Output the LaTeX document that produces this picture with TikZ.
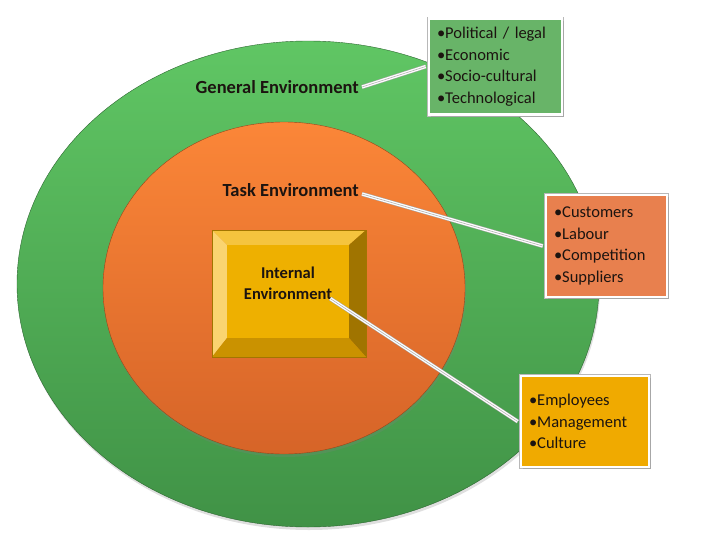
\documentclass[tikz,border=0pt]{standalone}
\usepackage{fontspec}
\setmainfont{Carlito}
\usetikzlibrary{shadows}

\definecolor{genTop}{RGB}{96,198,100}
\definecolor{genBot}{RGB}{64,146,70}
\definecolor{taskTop}{RGB}{251,134,56}
\definecolor{taskBot}{RGB}{214,100,40}
\definecolor{genFill}{RGB}{104,180,104}
\definecolor{taskFill}{RGB}{232,128,78}
\definecolor{intFill}{RGB}{240,170,0}
\definecolor{bevFace}{RGB}{238,176,0}
\definecolor{bevTop}{RGB}{245,196,62}
\definecolor{bevLeft}{RGB}{250,212,112}
\definecolor{bevRight}{RGB}{160,116,0}
\definecolor{bevBot}{RGB}{202,146,0}
\definecolor{inkText}{RGB}{28,20,16}

\begin{document}
\begin{tikzpicture}[x=1pt,y=-1pt,
		envlabel/.style={font=\fontsize{18.5}{22}\selectfont\bfseries, text=inkText, inner sep=1pt},
		listbox/.style={draw=white, line width=2.5pt, preaction={draw=black!28, line width=4pt},
			drop shadow={opacity=0.3, shadow xshift=2pt, shadow yshift=-2pt},
			align=left, inner xsep=8pt, text=inkText, font=\fontsize{16.5}{21.5}\selectfont},
		leader/.style={draw=white, line width=3.2pt, preaction={draw=black!35, line width=4.2pt},
			postaction={draw=black!30, line width=0.6pt}}]
	\useasboundingbox (0,0) rectangle (728,546);
	% the two environments
	\path[top color=genTop, bottom color=genBot, draw=genBot!70!black, line width=0.4pt,
		drop shadow={opacity=0.25, shadow xshift=1pt, shadow yshift=-3pt}]
		(308,284) ellipse [x radius=291pt, y radius=243pt];
	\path[top color=taskTop, bottom color=taskBot, draw=taskBot!70!black, line width=0.4pt,
		drop shadow={opacity=0.25, shadow xshift=1pt, shadow yshift=-3pt}]
		(284,288) ellipse [x radius=181pt, y radius=166pt];
	% bevelled box
		\fill[bevTop] (212,230) -- (366,230) -- (349,245) -- (227,245) -- cycle;
		\fill[bevLeft] (212,230) -- (227,245) -- (227,338) -- (212,357) -- cycle;
		\fill[bevRight] (366,230) -- (366,357) -- (349,338) -- (349,245) -- cycle;
		\fill[bevBot] (212,357) -- (366,357) -- (349,338) -- (227,338) -- cycle;
		\fill[bevFace] (227,245) rectangle (349,338);
		\draw[bevBot!80!black, line width=0.5pt] (212,230) rectangle (366,357);
	\node[envlabel, anchor=east] (gentxt) at (360,87) {General Environment};
	\node[envlabel, anchor=east] (tasktxt) at (360,190) {Task Environment};
	\node[envlabel, font=\fontsize{16.5}{21}\selectfont\bfseries, align=center] (inttxt) at (288,283) {Internal\\Environment};
	% lists
	\node[listbox, fill=genFill, text width=117pt, minimum height=96pt] (genlist) at (495.5,66.5)
		{•Political / legal\\•Economic\\•Socio-cultural\\•Technological};
	\node[listbox, fill=taskFill, text width=105pt, minimum height=102pt] (tasklist) at (606.5,246)
		{•Customers\\•Labour\\•Competition\\•Suppliers};
	\node[listbox, fill=intFill, text width=112pt, minimum height=91pt] (intlist) at (585,421.5)
		{•Employees\\•Management\\•Culture};
	% leaders
		\draw[leader] ([xshift=2pt]gentxt.east) -- ([xshift=-2pt]genlist.west);
		\draw[leader] ([xshift=2pt,yshift=-4pt]tasktxt.east) -- ([xshift=-2pt]tasklist.west);
		\draw[leader] ([xshift=-3pt,yshift=2pt]inttxt.south east) -- ([xshift=-2pt]intlist.west);
\end{tikzpicture}
\end{document}
